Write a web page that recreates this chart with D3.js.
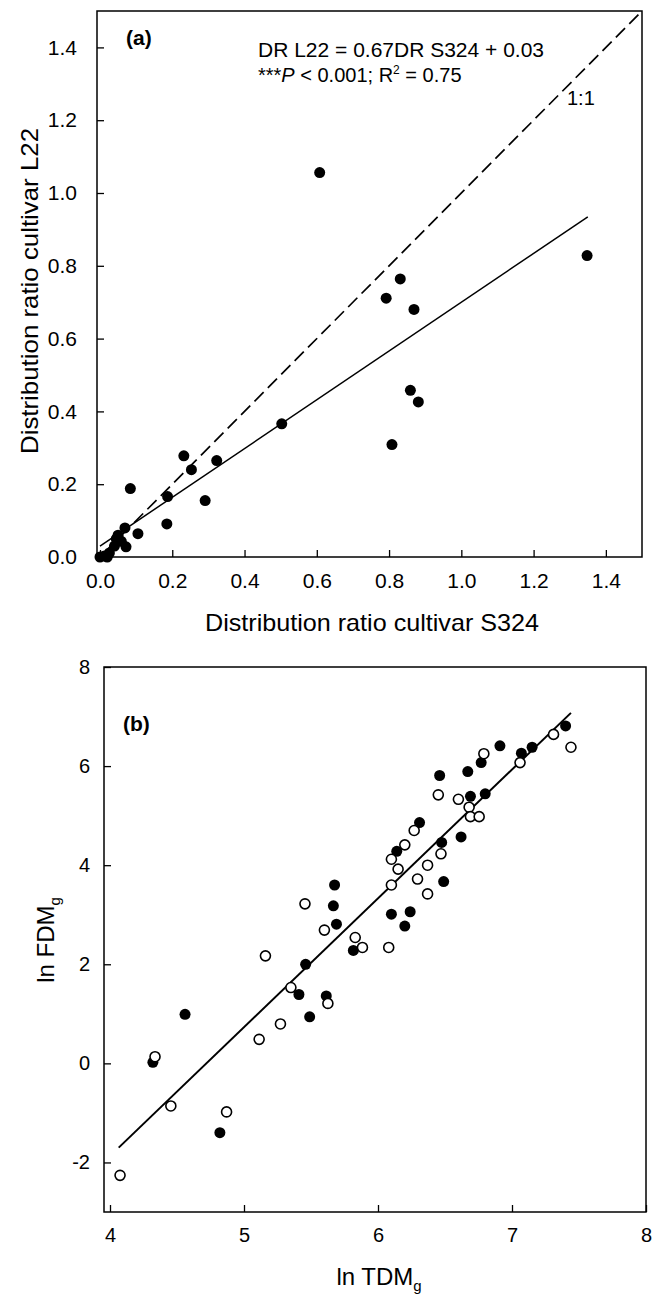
<!DOCTYPE html>
<html>
<head>
<meta charset="utf-8">
<script src="https://cdn.jsdelivr.net/npm/d3@7"></script>
<style>
  html, body { margin: 0; padding: 0; background: #fff; }
  svg { display: block; }
  text { font-family: "Liberation Sans", Arial, Helvetica, sans-serif; fill: #000; }
</style>
</head>
<body>
<svg id="chart" width="654" height="1295"></svg>
<script>
// ---------- Panel (a) data ----------
const aX = [0.608, 1.348, 0.831, 0.792, 0.869, 0.859, 0.881, 0.808, 0.503, 0.232, 0.253, 0.323,
            0.084, 0.187, 0.291, 0.185, 0.105, 0.069, 0.050, 0.059, 0.072, 0.040, 0.026, 0.012,
            0.000, 0.020, 0.045];
const aY = [1.056, 0.828, 0.764, 0.711, 0.680, 0.458, 0.426, 0.309, 0.366, 0.278, 0.240, 0.265,
            0.188, 0.166, 0.155, 0.091, 0.064, 0.080, 0.060, 0.043, 0.028, 0.030, 0.011, 0.003,
            0.000, 0.000, 0.050];
const aTicks = [0.0, 0.2, 0.4, 0.6, 0.8, 1.0, 1.2, 1.4];
const aSlope = 0.67, aIntercept = 0.03, aFitRange = [0, 1.35];
const oneToOneRange = [0.02, 1.5];

// ---------- Panel (b) data ----------
const bFilledX = [4.32, 4.56, 4.82, 5.41, 5.46, 5.49, 5.614, 5.667, 5.676, 5.69, 5.816, 6.10, 6.14,
                  6.20, 6.24, 6.31, 6.475, 6.49, 6.62, 6.46, 6.67, 6.69, 6.80, 6.77, 6.91, 7.07, 7.15, 7.40];
const bFilledY = [0.02, 0.99, -1.40, 1.39, 2.00, 0.94, 1.36, 3.18, 3.60, 2.81, 2.28, 3.01, 4.28,
                  2.77, 3.06, 4.86, 4.46, 3.67, 4.57, 5.81, 5.89, 5.39, 5.44, 6.07, 6.41, 6.26, 6.38, 6.81];
const bOpenX = [4.075, 4.336, 4.454, 4.87, 5.113, 5.272, 5.16, 5.35, 5.455, 5.626, 5.60, 5.83, 5.884,
                6.08, 6.10, 6.10, 6.15, 6.20, 6.27, 6.295, 6.37, 6.37, 6.47, 6.45, 6.60, 6.68, 6.69,
                6.755, 6.79, 7.06, 7.31, 7.44];
const bOpenY = [-2.26, 0.135, -0.86, -0.98, 0.485, 0.795, 2.17, 1.53, 3.22, 1.21, 2.69, 2.54, 2.34,
                2.34, 3.60, 4.12, 3.92, 4.41, 4.70, 3.72, 4.00, 3.42, 4.23, 5.42, 5.33, 5.17, 4.98,
                4.98, 6.25, 6.07, 6.64, 6.38];
const bXTicks = [4, 5, 6, 7, 8];
const bYTicks = [-2, 0, 2, 4, 6, 8];
const bSlope = 2.60, bIntercept = -12.27, bFitRange = [4.065, 7.44];

const svg = d3.select("#chart");
svg.append("rect").attr("width", 654).attr("height", 1295).attr("fill", "#fff");

// ================= Panel (a) =================
const ax = d3.scaleLinear().domain([0, 1.5]).range([100, 642]);
const ay = d3.scaleLinear().domain([0, 1.5]).range([557, 11]);
const ga = svg.append("g");

ga.append("rect").attr("x", 97).attr("y", ay(1.5)).attr("width", ax(1.5) - 97).attr("height", ay(0) - ay(1.5))
  .attr("fill", "none").attr("stroke", "#000").attr("stroke-width", 1.5);

ga.append("g").attr("transform", `translate(0,${ay(0)})`)
  .call(d3.axisBottom(ax).tickValues(aTicks).tickSize(-7).tickPadding(16).tickFormat(d3.format(".1f")))
  .call(g => g.select(".domain").remove())
  .call(g => g.selectAll("line").attr("stroke-width", 1.3))
  .call(g => g.selectAll("text").attr("font-size", 21).attr("font-family", null));

ga.append("g").attr("transform", `translate(97,0)`)
  .call(d3.axisLeft(ay).tickValues(aTicks).tickSize(-7).tickPadding(20).tickFormat(d3.format(".1f")))
  .call(g => g.select(".domain").remove())
  .call(g => g.selectAll("line").attr("stroke-width", 1.3))
  .call(g => g.selectAll("text").attr("font-size", 21).attr("font-family", null));

// 1:1 dashed line
ga.append("line")
  .attr("x1", ax(oneToOneRange[0])).attr("y1", ay(oneToOneRange[0]))
  .attr("x2", ax(oneToOneRange[1])).attr("y2", ay(oneToOneRange[1]))
  .attr("stroke", "#000").attr("stroke-width", 1.7).attr("stroke-dasharray", "13,6");

// regression line
ga.append("line")
  .attr("x1", ax(aFitRange[0])).attr("y1", ay(aSlope * aFitRange[0] + aIntercept))
  .attr("x2", ax(aFitRange[1])).attr("y2", ay(aSlope * aFitRange[1] + aIntercept))
  .attr("stroke", "#000").attr("stroke-width", 1.5);

ga.selectAll("circle.pa").data(aX.map((x, i) => [x, aY[i]])).join("circle")
  .attr("class", "pa").attr("cx", d => ax(d[0])).attr("cy", d => ay(d[1])).attr("r", 5.5).attr("fill", "#000");

ga.append("text").attr("x", 126).attr("y", 45).attr("font-size", 21).attr("font-weight", "bold").text("(a)");
ga.append("text").attr("x", 258).attr("y", 57).attr("font-size", 20)
  .attr("textLength", 286).attr("lengthAdjust", "spacingAndGlyphs").text("DR L22 = 0.67DR S324 + 0.03");
const t2 = ga.append("text").attr("x", 258).attr("y", 82).attr("font-size", 20);
t2.append("tspan").text("***");
t2.append("tspan").attr("font-style", "italic").text("P");
t2.append("tspan").text(" < 0.001; R");
t2.append("tspan").attr("font-size", 12).attr("dy", -8).text("2");
t2.append("tspan").attr("dy", 8).text(" = 0.75");
ga.append("text").attr("x", 567).attr("y", 105).attr("font-size", 20).text("1:1");

ga.append("text").attr("x", 372).attr("y", 631).attr("text-anchor", "middle").attr("font-size", 24)
  .attr("textLength", 334).attr("lengthAdjust", "spacingAndGlyphs").text("Distribution ratio cultivar S324");
ga.append("text").attr("transform", "translate(38,291) rotate(-90)").attr("text-anchor", "middle").attr("font-size", 24)
  .attr("textLength", 326).attr("lengthAdjust", "spacingAndGlyphs").text("Distribution ratio cultivar L22");

// ================= Panel (b) =================
const bx = d3.scaleLinear().domain([4, 8]).range([110, 646]);
const by = d3.scaleLinear().domain([-3, 8]).range([1212, 667]);
const gb = svg.append("g");

gb.append("rect").attr("x", 104).attr("y", by(8)).attr("width", bx(8) - 104).attr("height", by(-3) - by(8))
  .attr("fill", "none").attr("stroke", "#000").attr("stroke-width", 1.5);

gb.append("g").attr("transform", `translate(0,${by(-3)})`)
  .call(d3.axisBottom(bx).tickValues(bXTicks).tickSize(-7).tickPadding(16).tickFormat(d3.format("d")))
  .call(g => g.select(".domain").remove())
  .call(g => g.selectAll("line").attr("stroke-width", 1.3))
  .call(g => g.selectAll("text").attr("font-size", 20).attr("font-family", null));

gb.append("g").attr("transform", `translate(104,0)`)
  .call(d3.axisLeft(by).tickValues(bYTicks).tickSize(-7).tickPadding(14).tickFormat(d => d < 0 ? "-" + Math.abs(d) : d))
  .call(g => g.select(".domain").remove())
  .call(g => g.selectAll("line").attr("stroke-width", 1.3))
  .call(g => g.selectAll("text").attr("font-size", 20).attr("font-family", null));

gb.append("line")
  .attr("x1", bx(bFitRange[0])).attr("y1", by(bSlope * bFitRange[0] + bIntercept))
  .attr("x2", bx(bFitRange[1])).attr("y2", by(bSlope * bFitRange[1] + bIntercept))
  .attr("stroke", "#000").attr("stroke-width", 2);

gb.selectAll("circle.pf").data(bFilledX.map((x, i) => [x, bFilledY[i]])).join("circle")
  .attr("class", "pf").attr("cx", d => bx(d[0])).attr("cy", d => by(d[1])).attr("r", 5.5).attr("fill", "#000");
gb.selectAll("circle.po").data(bOpenX.map((x, i) => [x, bOpenY[i]])).join("circle")
  .attr("class", "po").attr("cx", d => bx(d[0])).attr("cy", d => by(d[1])).attr("r", 5)
  .attr("fill", "#fff").attr("stroke", "#000").attr("stroke-width", 1.6);

gb.append("text").attr("x", 123).attr("y", 731).attr("font-size", 21).attr("font-weight", "bold").text("(b)");

const xt = gb.append("text").attr("x", 379).attr("y", 1285).attr("text-anchor", "middle").attr("font-size", 24);
xt.append("tspan").text("ln TDM");
xt.append("tspan").attr("font-size", 15).attr("dy", 6).text("g");

const yt = gb.append("text").attr("transform", "translate(54,940) rotate(-90)").attr("text-anchor", "middle").attr("font-size", 24);
yt.append("tspan").text("ln FDM");
yt.append("tspan").attr("font-size", 15).attr("dy", 6).text("g");
</script>
</body>
</html>
